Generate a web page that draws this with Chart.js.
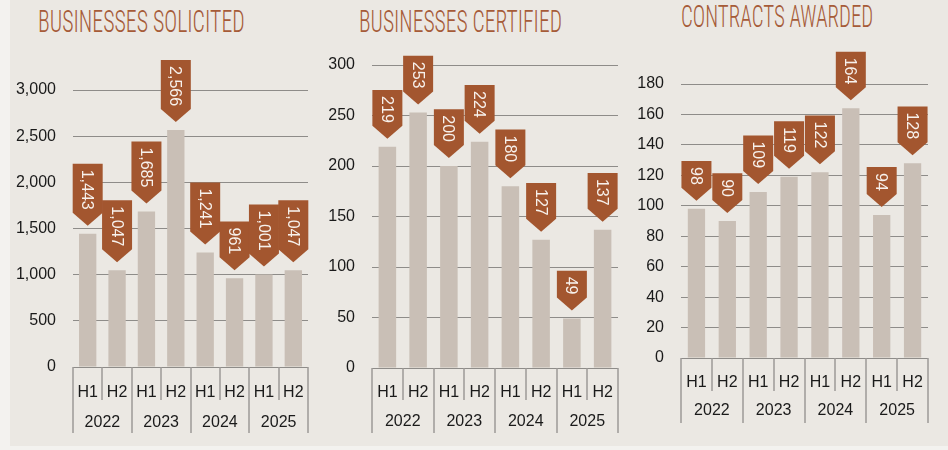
<!DOCTYPE html>
<html>
<head>
<meta charset="utf-8">
<script src="https://cdn.jsdelivr.net/npm/chart.js@4.4.1/dist/chart.umd.min.js"></script>
<style>
html,body{margin:0;padding:0;background:#f3f2ef;}
#wrap{position:relative;width:948px;height:450px;overflow:hidden;}
#panel{position:absolute;left:10px;top:0;width:938px;height:446px;background:#ebe8e3;}
.box{position:absolute;top:0;width:316px;height:450px;}
.title{position:absolute;font-family:'Roboto Condensed','Roboto','Liberation Sans',sans-serif;font-weight:300;font-size:30px;line-height:30px;color:#a65b38;white-space:nowrap;transform-origin:0 0;}
</style>
</head>
<body>
<div id="wrap">
  <div id="panel"></div>
  <div class="title" id="t1" data-w="207" style="left:38px;top:6px">BUSINESSES SOLICITED</div>
  <div class="title" id="t2" data-w="203" style="left:359px;top:6px">BUSINESSES CERTIFIED</div>
  <div class="title" id="t3" data-w="192" style="left:681px;top:1px">CONTRACTS AWARDED</div>
  <div class="box" style="left:0"><canvas id="c1"></canvas></div>
  <div class="box" style="left:316px"><canvas id="c2"></canvas></div>
  <div class="box" style="left:632px"><canvas id="c3"></canvas></div>
</div>
<script>
/* ── data ── */
var halves = ['H1','H2','H1','H2','H1','H2','H1','H2'];
var years = ['2022','2023','2024','2025'];

var solicited = [1443,1047,1685,2566,1241,961,1001,1047];
var certified = [219,253,200,224,180,127,49,137];
var awarded = [98,90,109,119,122,164,94,128];

var solicitedTicks = [0,500,1000,1500,2000,2500,3000];
var certifiedTicks = [0,50,100,150,200,250,300];
var awardedTicks = [0,20,40,60,80,100,120,140,160,180];

/* ── styling ── */
var FONT = "'Liberation Sans',Arial,sans-serif";
var BAR = '#c9bfb6';
var FLAG = '#a3562f';
var GRID = '#8e8c89';
var SEP = '#9c9a97';

function fmt(v){ return Number(v).toLocaleString('en-US'); }

// brown flag callouts above each bar
var flagPlugin = {
  id:'flags',
  afterDatasetsDraw:function(chart){
    var ctx = chart.ctx;
    var meta = chart.getDatasetMeta(0);
    var vals = chart.data.datasets[0].data;
    ctx.save();
    ctx.font = '16px ' + FONT;
    meta.data.forEach(function(el, i){
      var label = fmt(vals[i]);
      var tw = ctx.measureText(label).width;
      var w = 30, tri = 13;
      var tip = el.y - 8;
      var rectH = tw + 9;
      var top = tip - tri - rectH;
      var l = el.x - w/2, r = el.x + w/2;
      ctx.fillStyle = FLAG;
      ctx.beginPath();
      ctx.moveTo(l, top);
      ctx.lineTo(r, top);
      ctx.lineTo(r, top + rectH);
      ctx.lineTo(el.x, tip);
      ctx.lineTo(l, top + rectH);
      ctx.closePath();
      ctx.fill();
      ctx.save();
      ctx.translate(el.x, top + 6);
      ctx.rotate(Math.PI/2);
      ctx.fillStyle = '#f7f1ec';
      ctx.textAlign = 'left';
      ctx.textBaseline = 'middle';
      ctx.fillText(label, 0, 1);
      ctx.restore();
    });
    ctx.restore();
  }
};

// two-level category axis: separators + year row
var groupPlugin = {
  id:'groups',
  afterDraw:function(chart, args, opts){
    var ctx = chart.ctx;
    var x = chart.scales.x;
    var y0 = chart.chartArea.bottom;
    var n = chart.data.labels.length;
    var slot = (chart.chartArea.right - chart.chartArea.left) / n;
    ctx.save();
    ctx.strokeStyle = SEP;
    ctx.lineWidth = 1.5;
    for(var k=0;k<=n;k++){
      var px = Math.round(chart.chartArea.left + k*slot);
      var len = (k % 2 === 0) ? opts.yearLen : opts.halfLen;
      ctx.beginPath();
      ctx.moveTo(px, y0);
      ctx.lineTo(px, y0 + len);
      ctx.stroke();
    }
    ctx.fillStyle = '#1a1a1a';
    ctx.font = '16px ' + FONT;
    ctx.textAlign = 'center';
    ctx.textBaseline = 'middle';
    years.forEach(function(yr, j){
      var cx = (x.getPixelForValue(2*j) + x.getPixelForValue(2*j+1)) / 2;
      ctx.fillText(yr, cx, y0 + opts.yearY);
    });
    ctx.restore();
  }
};

function makeChart(id, values, ticks, cfg){
  var ctx = document.getElementById(id);
  if(!ctx || ctx._ch) return;
  ctx._ch = new Chart(ctx, {
    type:'bar',
    data:{
      labels:halves,
      datasets:[{
        data:values,
        backgroundColor:BAR,
        borderWidth:0,
        barPercentage:cfg.barPct,
        categoryPercentage:1
      }]
    },
    options:{
      responsive:true,
      maintainAspectRatio:false,
      animation:false,
      layout:{padding:{left:0,right:cfg.right,top:cfg.top,bottom:cfg.bottom}},
      plugins:{
        legend:{display:false},
        tooltip:{enabled:false},
        groups:{yearY:cfg.yearY, halfLen:cfg.halfLen, yearLen:cfg.yearLen}
      },
      scales:{
        x:{
          grid:{display:false},
          border:{display:false},
          ticks:{font:{family:FONT,size:16},color:'#1a1a1a',padding:cfg.tickPad,maxRotation:0,autoSkip:false},
          afterFit:function(s){ s.height = 70; }
        },
        y:{
          min:0,
          max:ticks[ticks.length-1],
          afterBuildTicks:function(s){ s.ticks = ticks.map(function(v){ return {value:v}; }); },
          grid:{color:GRID,lineWidth:1,drawTicks:false},
          border:{display:false},
          ticks:{font:{family:FONT,size:16},color:'#1a1a1a',padding:17,callback:function(v){ return fmt(v); }},
          afterFit:function(s){ s.width = cfg.yW; }
        }
      }
    },
    plugins:[flagPlugin, groupPlugin]
  });
}

function fitTitles(){
  document.querySelectorAll('.title').forEach(function(t){
    var k = parseFloat(t.getAttribute('data-w')) / t.offsetWidth;
    t.style.transform = 'scale(' + k + ',1.05)';
  });
}

fitTitles();
makeChart('c1', solicited, solicitedTicks, {yW:73, right:8, top:90, bottom:13, barPct:0.59, tickPad:8, yearY:56, halfLen:33, yearLen:66});
makeChart('c2', certified, certifiedTicks, {yW:56, right:14, top:65, bottom:12, barPct:0.57, tickPad:7, yearY:54, halfLen:32, yearLen:65});
makeChart('c3', awarded, awardedTicks, {yW:49, right:20, top:84, bottom:22, barPct:0.56, tickPad:7, yearY:53, halfLen:33, yearLen:65});
</script>
</body>
</html>
